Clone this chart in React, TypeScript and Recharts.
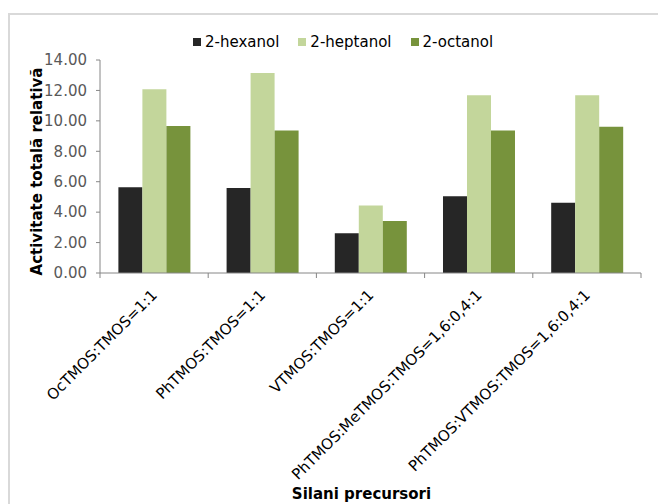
import React from "react";
import { BarChart, Bar, XAxis, YAxis, Legend } from "recharts";

const categories = [
  "OcTMOS:TMOS=1:1",
  "PhTMOS:TMOS=1:1",
  "VTMOS:TMOS=1:1",
  "PhTMOS:MeTMOS:TMOS=1,6:0,4:1",
  "PhTMOS:VTMOS:TMOS=1,6:0,4:1",
];
const hexanol = [5.64, 5.58, 2.61, 5.05, 4.61];
const heptanol = [12.07, 13.15, 4.44, 11.68, 11.68];
const octanol = [9.66, 9.37, 3.42, 9.37, 9.61];
const yTicks = [0, 2, 4, 6, 8, 10, 12, 14];

const SERIES = [
  { key: "hexanol", name: "2-hexanol", color: "#262626" },
  { key: "heptanol", name: "2-heptanol", color: "#c3d69b" },
  { key: "octanol", name: "2-octanol", color: "#77933c" },
];

const data = categories.map((c, i) => ({
  name: c,
  hexanol: hexanol[i],
  heptanol: heptanol[i],
  octanol: octanol[i],
}));

const FONT = "'DejaVu Sans', Verdana, sans-serif";
const AXIS = "#868686";
const W = 648;
const H = 489;
// the top legend adds its own 18px row above the plot
const M = { top: 27, right: 17, left: 0, bottom: 0 };
const Y_W = 90;
const BAND = (W - M.left - M.right - Y_W) / categories.length;

const CategoryTick = (props: any) => {
  const { x, y, payload, index } = props;
  const half = BAND / 2;
  const ax = x + 4;
  const ay = y + 15;
  return (
    <g>
      {index === 0 && <line x1={x - half} x2={x - half} y1={y - 8} y2={y - 3} stroke={AXIS} />}
      <line x1={x + half} x2={x + half} y1={y - 8} y2={y - 3} stroke={AXIS} />
      <text
        x={ax}
        y={ay}
        textAnchor="end"
        transform={`rotate(-45, ${ax}, ${ay})`}
        fill="#000"
        fontSize={15}
        fontFamily={FONT}
      >
        {payload.value}
      </text>
    </g>
  );
};

// legend drawn in series order
const LegendRow = () => (
  <div style={{ display: "flex", fontFamily: FONT, fontSize: 15, color: "#000", lineHeight: "18px" }}>
    {SERIES.map((s) => (
      <div key={s.key} style={{ display: "flex", alignItems: "center", marginRight: 19 }}>
        <span style={{ width: 8, height: 8, background: s.color, marginRight: 4, display: "inline-block" }} />
        {s.name}
      </div>
    ))}
  </div>
);

export default function App() {
  return (
    <div
      style={{
        position: "absolute",
        left: 8,
        top: 13,
        width: 650,
        height: 491,
        borderTop: "2px solid #d9d9d9",
        borderLeft: "2px solid #d9d9d9",
        boxSizing: "border-box",
        background: "#fff",
      }}
    >
      <BarChart width={W} height={H} data={data} margin={M} barCategoryGap="17%" barGap={0}>
        <XAxis
          dataKey="name"
          interval={0}
          height={231}
          tickLine={false}
          axisLine={{ stroke: AXIS }}
          tick={<CategoryTick />}
          label={{
            content: (p: any) => {
              const vb = p.viewBox;
              return (
                <text
                  x={vb.x + vb.width / 2 - 9}
                  y={H - 5}
                  textAnchor="middle"
                  fontFamily={FONT}
                  fontWeight="bold"
                  fontSize={15}
                  fill="#000"
                >
                  Silani precursori
                </text>
              );
            },
          }}
        />
        <YAxis
          width={Y_W}
          domain={[0, 14]}
          ticks={yTicks}
          interval={0}
          tickFormatter={(v: number) => v.toFixed(2)}
          tick={{ fill: "#595959", fontSize: 15, fontFamily: FONT }}
          tickSize={4}
          tickMargin={9}
          tickLine={{ stroke: AXIS }}
          axisLine={{ stroke: AXIS }}
          label={{
            content: (p: any) => {
              const vb = p.viewBox;
              const cx = 27;
              const cy = vb.y + vb.height / 2 + 5;
              return (
                <text
                  x={cx}
                  y={cy}
                  textAnchor="middle"
                  dominantBaseline="central"
                  transform={`rotate(-90, ${cx}, ${cy})`}
                  fontFamily={FONT}
                  fontWeight="bold"
                  fontSize={15}
                  fill="#000"
                >
                  Activitate totală relativă
                </text>
              );
            },
          }}
        />
        <Legend
          verticalAlign="top"
          content={<LegendRow />}
          wrapperStyle={{ position: "absolute", top: 18, left: 183, width: "auto" }}
        />
        {SERIES.map((s) => (
          <Bar key={s.key} dataKey={s.key} name={s.name} fill={s.color} isAnimationActive={false} />
        ))}
      </BarChart>
    </div>
  );
}
